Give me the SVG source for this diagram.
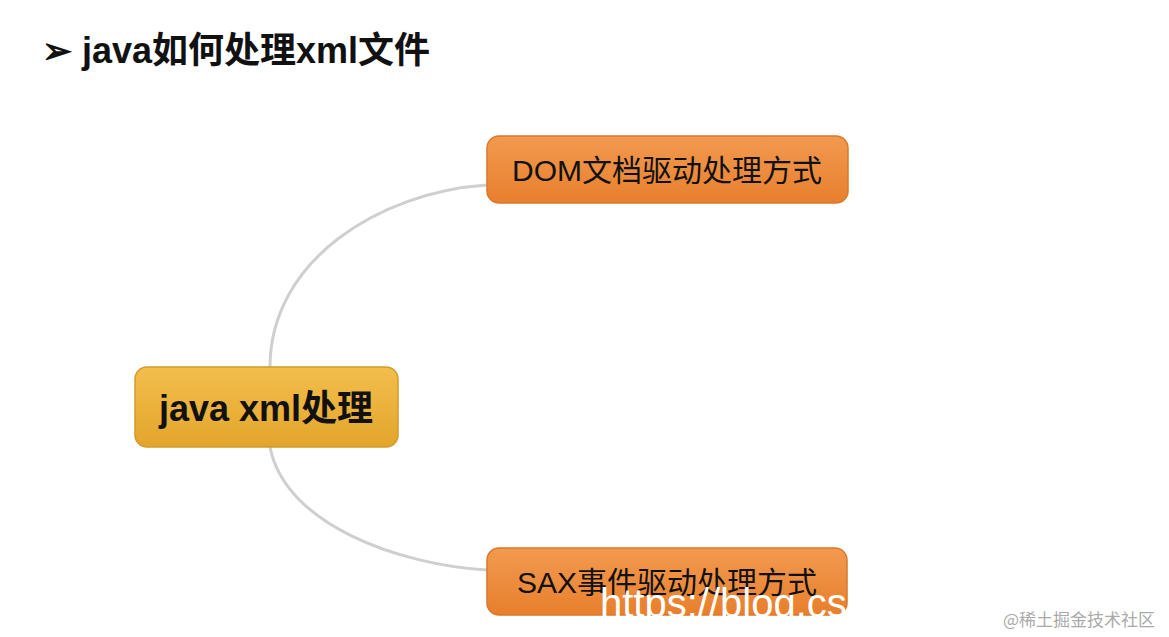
<svg xmlns="http://www.w3.org/2000/svg" width="1169" height="637" viewBox="0 0 1169 637">
<defs>
<linearGradient id="gy" x1="0" y1="0" x2="0" y2="1"><stop offset="0" stop-color="#f3be4c"/><stop offset="1" stop-color="#e3a52c"/></linearGradient>
<linearGradient id="go" x1="0" y1="0" x2="0" y2="1"><stop offset="0" stop-color="#f29a50"/><stop offset="1" stop-color="#e87f2c"/></linearGradient>
</defs>
<style>
.t{font-family:"Liberation Sans","Noto Sans CJK SC",sans-serif;fill:#111}
.c{fill:none;stroke:#cfcfcf;stroke-width:3}
</style>
<rect width="1169" height="637" fill="#fff"/>
<text x="42" y="63" class="t" font-size="36" font-weight="bold">➢ java如何处理xml文件</text>
<g id="connectors">
<path class="c" d="M270,367 C270,260 380,192 487,185"/>
<path class="c" d="M270,447 C285,525 400,565 487,570"/>
</g>
<g id="center">
<rect x="135" y="367" width="263" height="80" rx="12" fill="url(#gy)" stroke="#d39a2a" stroke-width="1.5"/>
<text x="266" y="421" class="t" font-size="36" font-weight="bold" text-anchor="middle">java xml处理</text>
</g>
<g id="dom">
<rect x="487" y="136" width="361" height="67" rx="12" fill="url(#go)" stroke="#d9782c" stroke-width="1.5"/>
<text x="667" y="181" class="t" font-size="30" text-anchor="middle">DOM文档驱动处理方式</text>
</g>
<g id="sax">
<rect x="487" y="548" width="360" height="67" rx="12" fill="url(#go)" stroke="#d9782c" stroke-width="1.5"/>
<text x="667" y="593" class="t" font-size="30" text-anchor="middle">SAX事件驱动处理方式</text>
</g>
<text x="600" y="617" font-family="Liberation Sans,sans-serif" font-size="40" fill="#fff">https://blog.cs</text>
<text x="1003" y="626" font-family="Noto Sans CJK SC,sans-serif" font-size="17" fill="#aaa">@稀土掘金技术社区</text>
</svg>
